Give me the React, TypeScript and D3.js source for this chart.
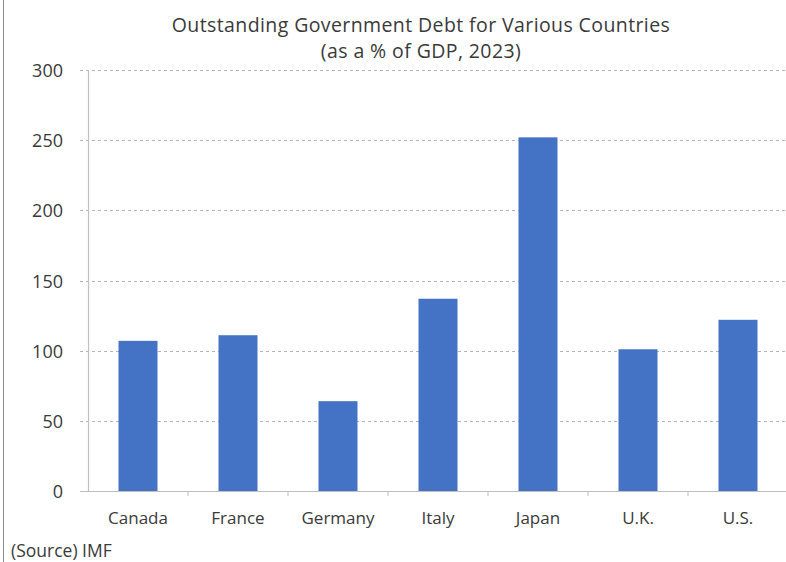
import React from "react";
import * as d3 from "d3";

const categories = ["Canada", "France", "Germany", "Italy", "Japan", "U.K.", "U.S."];
const debtValues = [107, 111, 64, 137, 252, 101, 122];
const yTicks = [0, 50, 100, 150, 200, 250, 300];
const titleLines = ["Outstanding Government Debt for Various Countries", "(as a % of GDP, 2023)"];
const sourceText = "(Source) IMF";

const W = 786;
const H = 562;
const FONT = "'Open Sans', Lato, sans-serif";

export default function App() {
  const x = d3.scaleBand<string>().domain(categories).range([88, 788]).paddingInner(0.61).paddingOuter(0.305);
  const y = d3.scaleLinear().domain([0, 300]).range([491, 70]);
  const bandStep = x.step();
  const x0 = 88;

  return (
    <svg
      width={W}
      height={H}
      style={{ position: "absolute", left: 0, top: 0, background: "#fff", fontFamily: FONT }}
    >
      <rect x={0} y={0} width={W} height={H} fill="#fff" />
      <line x1={3.5} x2={3.5} y1={0} y2={H} stroke="#8c8c8c" strokeWidth={1} />
      {titleLines.map((t, i) => (
        <text key={i} x={421} y={32 + i * 26} textAnchor="middle" fontSize={19.5} letterSpacing={0.4} fill="#3a3a3a">
          {t}
        </text>
      ))}
      {yTicks.map((v) =>
        v === 0 ? null : (
          <line key={"g" + v} x1={80} x2={786} y1={Math.round(y(v)) + 0.5} y2={Math.round(y(v)) + 0.5}
            stroke="#b5b5b5" strokeWidth={1} strokeDasharray="3,3" />
        )
      )}
      {yTicks.map((v) => (
        <text key={"t" + v} x={63} y={y(v) + 7} textAnchor="end" fontSize={18} fill="#3a3a3a">
          {v}
        </text>
      ))}
      {categories.map((c, i) => (
        <rect key={c} x={x(c)!} y={y(debtValues[i])} width={x.bandwidth()} height={y(0) - y(debtValues[i])} fill="#4472C4" />
      ))}
      <line x1={88.5} x2={88.5} y1={70} y2={491} stroke="#bfbfbf" strokeWidth={1.2} />
      <line x1={80} x2={786} y1={491.5} y2={491.5} stroke="#bfbfbf" strokeWidth={1.2} />
      {categories.slice(1).map((c, i) => (
        <line key={"k" + c} x1={x0 + bandStep * (i + 1)} x2={x0 + bandStep * (i + 1)} y1={491} y2={496} stroke="#bfbfbf" strokeWidth={1} />
      ))}
      {categories.map((c) => (
        <text key={"l" + c} x={x(c)! + x.bandwidth() / 2} y={524} textAnchor="middle" fontSize={17} fill="#3a3a3a">
          {c}
        </text>
      ))}
      <text x={11} y={557} fontSize={17.5} fill="#3a3a3a">{sourceText}</text>
    </svg>
  );
}
